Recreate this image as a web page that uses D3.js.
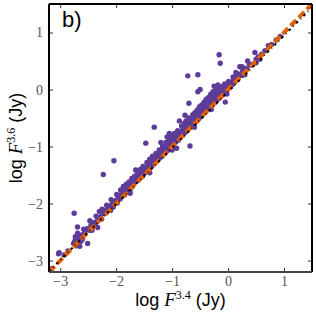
<!DOCTYPE html>
<html>
<head>
<meta charset="utf-8">
<script src="https://cdn.jsdelivr.net/npm/d3@7"></script>
<style>
  body { margin: 0; background: #fff; }
  svg { display: block; }
</style>
</head>
<body>
<div id="chart"></div>
<script>
// log F(3.4 um) vs log F(3.6 um)
const points = [
  [-3.15,-3.14],[-3.03,-2.88],[-3.02,-2.86],[-2.93,-2.90],[-2.86,-2.83],
  [-2.76,-2.70],[-2.74,-2.66],[-2.72,-2.62],[-2.71,-2.74],[-2.70,-2.68],[-2.68,-2.60],
  [-2.67,-2.71],[-2.66,-2.64],[-2.64,-2.58],[-2.63,-2.66],[-2.62,-2.55],
  [-2.73,-2.58],[-2.69,-2.52],[-2.65,-2.75],[-2.60,-2.62],[-2.58,-2.45],
  [-2.75,-2.17],[-2.69,-2.41],[-2.51,-2.70],
  [-2.56,-2.50],[-2.52,-2.44],[-2.48,-2.47],[-2.47,-2.30],[-2.45,-2.38],[-2.43,-2.47],
  [-2.42,-2.41],[-2.40,-2.33],[-2.37,-2.36],[-2.36,-2.22],[-2.33,-2.42],[-2.30,-2.14],
  [-2.33,-2.28],[-2.28,-2.23],[-2.26,-2.27],[-2.25,-2.10],
  [-2.23,-1.49],[-2.22,-2.17],[-2.20,-2.12],[-2.18,-2.16],[-2.17,-2.03],[-2.15,-2.10],
  [-2.12,-2.06],[-2.10,-2.12],[-2.09,-1.93],[-2.08,-2.02],[-2.06,-1.98],[-2.05,-2.06],
  [-2.04,-1.25],[-2.02,-1.97],[-2.00,-1.94],[-1.99,-1.84],[-1.98,-1.99],[-1.96,-1.90],
  [-1.95,-1.86],[-1.93,-1.92],[-1.92,-1.76],[-1.91,-1.84],[-1.90,-1.88],[-1.88,-1.82],
  [-1.87,-1.70],[-1.86,-1.79],[-1.85,-1.85],[-1.83,-1.77],[-1.82,-1.66],[-1.81,-1.74],
  [-1.80,-1.80],[-1.78,-1.72],[-1.77,-1.62],[-1.76,-1.68],[-1.75,-1.76],[-1.75,-1.82],
  [-1.73,-1.66],[-1.72,-1.56],[-1.71,-1.70],[-1.70,-1.62],[-1.68,-1.64],[-1.67,-1.52],
  [-1.65,-1.41],[-1.64,-1.60],[-1.63,-1.43],[-1.62,-1.55],[-1.61,-1.46],[-1.60,-1.58],
  [-1.58,-1.50],[-1.57,-1.40],[-1.56,-1.53],[-1.55,-1.47],[-1.53,-1.52],[-1.52,-1.35],
  [-1.51,-1.44],[-1.50,-1.46],[-1.48,-1.40],[-1.47,-0.94],[-1.46,-1.45],[-1.45,-1.28],
  [-1.44,-1.36],[-1.42,-1.39],[-1.41,-1.33],[-1.40,-1.22],[-1.40,-1.46],[-1.39,-1.37],
  [-1.37,-1.29],[-1.36,-1.34],[-1.35,-1.17],[-1.34,-1.25],[-1.32,-0.66],[-1.31,-1.28],
  [-1.30,-1.22],[-1.29,-1.12],[-1.28,-1.26],[-1.27,-1.18],[-1.25,-1.21],[-1.24,-1.14],
  [-1.23,-1.06],[-1.22,-1.20],[-1.21,-1.13],[-1.20,-0.93],[-1.19,-1.09],[-1.18,-1.17],
  [-1.17,-1.00],[-1.16,-1.10],[-1.15,-1.04],[-1.13,-1.12],[-1.12,-1.06],[-1.11,-0.93],
  [-1.10,-0.98],[-1.09,-0.83],[-1.08,-1.07],[-1.07,-1.01],[-1.06,-0.88],[-1.05,-0.77],
  [-1.05,-0.95],[-1.03,-1.02],[-1.02,-0.97],[-1.01,-0.82],[-1.00,-0.91],[-1.00,-1.06],
  [-0.99,-0.85],[-0.98,-0.98],[-0.97,-0.90],[-0.96,-0.77],[-0.95,-0.93],[-0.94,-0.84],
  [-0.92,-1.03],[-0.92,-0.88],[-0.91,-0.80],[-0.90,-0.72],[-0.89,-0.89],[-0.88,-0.82],
  [-0.87,-0.55],[-0.86,-0.76],[-0.85,-0.84],[-0.84,-0.79],[-0.83,-0.64],[-0.82,-0.72],
  [-0.81,-0.80],[-0.80,-0.74],[-0.79,-0.66],[-0.78,-0.59],[-0.77,-0.45],[-0.77,-0.76],
  [-0.76,-0.70],[-0.75,-0.55],[-0.74,-0.63],[-0.73,-0.72],[-0.72,0.24],[-0.71,-0.66],
  [-0.70,-0.24],[-0.70,-0.50],[-0.69,-0.58],[-0.68,-0.99],[-0.68,-0.67],[-0.66,-0.60],
  [-0.65,-0.52],[-0.64,-0.63],[-0.63,-0.44],[-0.62,-0.56],[-0.61,-0.48],[-0.60,-0.59],
  [-0.60,-0.66],[-0.59,-0.40],[-0.58,-0.52],[-0.57,-0.44],[-0.56,-0.55],[-0.55,-0.36],
  [-0.54,-0.48],[-0.54,0.26],[-0.54,-0.04],[-0.53,-0.40],[-0.52,-0.51],[-0.51,-0.30],
  [-0.50,-0.45],[-0.50,0.00],[-0.49,-0.37],[-0.48,-0.47],[-0.47,-0.27],[-0.46,-0.41],
  [-0.45,-0.33],[-0.44,-0.43],[-0.43,-0.22],[-0.42,-0.36],[-0.41,-0.28],[-0.40,-0.39],
  [-0.39,-0.17],[-0.38,-0.32],[-0.37,-0.25],[-0.36,-0.35],[-0.35,-0.14],[-0.34,-0.28],
  [-0.33,-0.20],[-0.32,-0.31],[-0.31,-0.08],[-0.30,-0.24],[-0.30,-0.35],[-0.29,-0.16],
  [-0.28,-0.27],[-0.27,-0.04],[-0.26,-0.20],[-0.25,0.06],[-0.25,-0.12],[-0.24,-0.23],
  [-0.23,-0.07],[-0.22,-0.16],[-0.22,0.04],[-0.21,0.02],[-0.20,-0.19],[-0.19,-0.10],
  [-0.18,-0.01],[-0.18,0.08],[-0.17,-0.16],[-0.16,0.61],[-0.15,-0.08],[-0.14,0.46],
  [-0.14,-0.13],[-0.13,-0.04],[-0.12,0.05],[-0.11,-0.10],[-0.10,-0.03],[-0.08,0.02],
  [-0.07,-0.06],[-0.06,0.10],[-0.05,-0.22],[-0.05,0.01],[-0.03,-0.02],[-0.02,0.06],
  [-0.02,-0.08],[0.00,0.01],[0.01,0.14],[0.02,0.08],[0.04,0.05],[0.06,0.12],
  [0.08,0.09],[0.09,0.22],[0.10,0.17],[0.12,0.13],[0.14,0.30],[0.15,0.22],[0.17,0.18],
  [0.20,0.27],[0.21,0.40],[0.23,0.25],[0.25,0.40],[0.26,0.32],[0.28,0.30],[0.30,0.26],
  [0.31,0.37],[0.34,0.36],[0.35,0.50],[0.38,0.44],[0.41,0.43],[0.45,0.45],[0.48,0.65],
  [0.50,0.53],[0.50,0.47],[0.54,0.57],[0.57,0.53],[0.60,0.62],[0.66,0.68],[0.72,0.77],
  [0.78,0.79],[0.86,0.87],[0.93,0.93]
];
const xTicks = [-3, -2, -1, 0, 1];
const yTicks = [-3, -2, -1, 0, 1];
const lineX = [-3.2, 1.5];
const orangeY = [-3.2, 1.5];   // one-to-one line
const blackY = [-3.19, 1.44];  // fitted relation

const W = 316, H = 316;
const margin = {left: 49, right: 4, top: 4, bottom: 44};
const width = W - margin.left - margin.right,
      height = H - margin.top - margin.bottom;

const svg = d3.select('#chart').append('svg')
  .attr('width', W).attr('height', H);

const g = svg.append('g')
  .attr('transform', 'translate(' + margin.left + ',' + margin.top + ')');

const x = d3.scaleLinear().domain([-3.2, 1.5]).range([0, width]);
const y = d3.scaleLinear().domain([-3.2, 1.5]).range([height, 0]);

g.append('clipPath').attr('id', 'clip')
  .append('rect').attr('width', width).attr('height', height);

const fmt = d => (d < 0 ? '\u2212' + Math.abs(d) : '' + d);

// axes, ticks pointing inward
const tickStyle = sel => {
  sel.select('.domain').remove();
  sel.selectAll('line').attr('stroke', '#333').attr('stroke-width', 1);
  sel.selectAll('text')
     .attr('fill', '#555')
     .style('font-family', '"Liberation Serif", "DejaVu Serif", serif')
     .style('font-size', '14px');
};

g.append('g').attr('transform', 'translate(0,' + height + ')')
  .call(d3.axisBottom(x).tickValues(xTicks).tickFormat(fmt).tickSizeInner(-4).tickPadding(4))
  .call(tickStyle);
g.append('g')
  .call(d3.axisLeft(y).tickValues(yTicks).tickFormat(fmt).tickSizeInner(-4).tickPadding(6))
  .call(tickStyle);
g.append('g')
  .call(d3.axisTop(x).tickValues(xTicks).tickFormat('').tickSizeInner(-4))
  .call(tickStyle);
g.append('g').attr('transform', 'translate(' + width + ',0)')
  .call(d3.axisRight(y).tickValues(yTicks).tickFormat('').tickSizeInner(-4))
  .call(tickStyle);

// points
g.append('g').attr('clip-path', 'url(#clip)')
  .selectAll('circle')
  .data(points)
  .enter()
  .append('circle')
  .attr('cx', d => x(d[0]))
  .attr('cy', d => y(d[1]))
  .attr('r', 2.7)
  .attr('fill', '#5e3c99');

// relations
const lines = g.append('g').attr('clip-path', 'url(#clip)');
lines.append('line')
  .attr('x1', x(lineX[0])).attr('y1', y(orangeY[0]))
  .attr('x2', x(lineX[1])).attr('y2', y(orangeY[1]))
  .attr('stroke', '#e66101').attr('stroke-width', 4)
  .attr('stroke-dasharray', '8 3.5');
lines.append('line')
  .attr('x1', x(lineX[0])).attr('y1', y(blackY[0]))
  .attr('x2', x(lineX[1])).attr('y2', y(blackY[1]))
  .attr('stroke', '#000').attr('stroke-width', 2)
  .attr('stroke-dasharray', '2.5 3.5 0.8 3.5');

// frame
g.append('line').attr('x1', 0).attr('x2', 0).attr('y1', 0).attr('y2', height)
  .attr('stroke', '#000').attr('stroke-width', 2);
g.append('line').attr('x1', width).attr('x2', width).attr('y1', 0).attr('y2', height)
  .attr('stroke', '#000').attr('stroke-width', 2);
g.append('line').attr('x1', 0).attr('x2', width).attr('y1', 0).attr('y2', 0)
  .attr('stroke', '#000').attr('stroke-width', 2);
g.append('line').attr('x1', 0).attr('x2', width).attr('y1', height).attr('y2', height)
  .attr('stroke', '#444').attr('stroke-width', 2);

// panel label
svg.append('text')
  .attr('x', 62).attr('y', 27)
  .style('font-family', '"Liberation Sans", Arial, sans-serif')
  .style('font-size', '22px')
  .text('b)');

// axis titles
function axisTitle(sel, sup) {
  sel.style('font-family', '"Liberation Sans", Arial, sans-serif')
     .style('font-size', '18px')
     .attr('text-anchor', 'middle');
  sel.append('tspan').text('log ');
  sel.append('tspan').text('F')
     .style('font-family', '"Liberation Serif", "DejaVu Serif", serif')
     .style('font-style', 'italic').style('font-size', '19px');
  sel.append('tspan').text(sup).attr('dy', -7)
     .style('font-family', '"Liberation Serif", "DejaVu Serif", serif')
     .style('font-size', '12px');
  sel.append('tspan').text(' (Jy)').attr('dy', 7);
}

svg.append('text')
  .attr('x', margin.left + width / 2).attr('y', 306)
  .call(axisTitle, '3.4');

svg.append('text')
  .attr('transform', 'translate(22,' + (margin.top + height / 2) + ') rotate(-90)')
  .call(axisTitle, '3.6');
</script>
</body>
</html>
